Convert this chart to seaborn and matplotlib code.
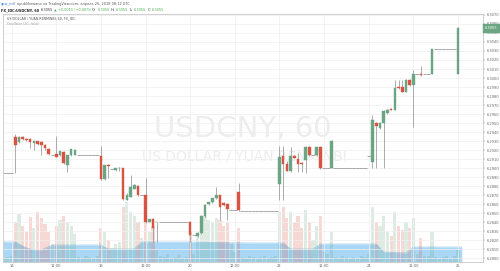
import matplotlib
matplotlib.use("Agg")
import matplotlib.pyplot as plt
import seaborn as sns

# ---------------- data ----------------
candle_hours = [1, 2, 3, 4, 5, 6, 7, 8, 9, 10, 12, 13, 14, 15, 16, 17,
                24, 25, 26, 28, 29, 30, 31, 32, 33, 34, 36, 37, 38, 39,
                48, 50, 51, 52, 53, 54, 55, 56, 57, 58, 61,
                72, 73, 74, 75, 76, 77, 78, 79, 80, 82, 83, 86,
                97, 98, 99, 100, 101, 102, 103, 104, 105, 106, 107, 108, 110, 113, 120]
opens = [6.2934, 6.2929, 6.2934, 6.2932, 6.2932, 6.2928, 6.2930, 6.2929, 6.2926, 6.2921, 6.2916, 6.2914, 6.2918, 6.2903, 6.2914, 6.2915,
         6.2913, 6.2888, 6.2903, 6.2898, 6.2900, 6.2900, 6.2865, 6.2868, 6.2877, 6.2880, 6.2870, 6.2840, 6.2843, 6.2840,
         6.2840, 6.2824, 6.2828, 6.2847, 6.2860, 6.2862, 6.2867, 6.2870, 6.2861, 6.2860, 6.2873,
         6.2882, 6.2913, 6.2905, 6.2897, 6.2913, 6.2910, 6.2906, 6.2909, 6.2923, 6.2914, 6.2923, 6.2900,
         6.2907, 6.2950, 6.2944, 6.2950, 6.2961, 6.2966, 6.2965, 6.2990, 6.2990, 6.2985, 6.2998, 6.2992, 6.3005, 6.3005, 6.3005]
highs = [6.2938, 6.2936, 6.2936, 6.2933, 6.2933, 6.2931, 6.2930, 6.2930, 6.2927, 6.2922, 6.2936, 6.2919, 6.2919, 6.2914, 6.2921, 6.2921,
         6.2924, 6.2903, 6.2905, 6.2900, 6.2901, 6.2900, 6.2872, 6.2892, 6.2882, 6.2881, 6.2889, 6.2843, 6.2844, 6.2840,
         6.2841, 6.2829, 6.2848, 6.2860, 6.2862, 6.2867, 6.2879, 6.2870, 6.2862, 6.2861, 6.2883,
         6.2924, 6.2924, 6.2908, 6.2923, 6.2914, 6.2917, 6.2907, 6.2924, 6.2924, 6.2923, 6.2924, 6.2931,
         6.2959, 6.2951, 6.2951, 6.2964, 6.2966, 6.2967, 6.2998, 6.2998, 6.2998, 6.2999, 6.2999, 6.3009, 6.3013, 6.3032, 6.3057]
lows = [6.2894, 6.2928, 6.2931, 6.2930, 6.2922, 6.2920, 6.2926, 6.2914, 6.2920, 6.2914, 6.2912, 6.2913, 6.2904, 6.2896, 6.2913, 6.2914,
        6.2887, 6.2887, 6.2889, 6.2897, 6.2897, 6.2864, 6.2864, 6.2868, 6.2877, 6.2869, 6.2839, 6.2840, 6.2818, 6.2818,
        6.2818, 6.2823, 6.2827, 6.2846, 6.2859, 6.2861, 6.2866, 6.2842, 6.2858, 6.2842, 6.2852,
        6.2864, 6.2864, 6.2897, 6.2896, 6.2911, 6.2896, 6.2896, 6.2894, 6.2913, 6.2913, 6.2899, 6.2900,
        6.2900, 6.2900, 6.2943, 6.2900, 6.2960, 6.2964, 6.2964, 6.2988, 6.2984, 6.2984, 6.2991, 6.2946, 6.3002, 6.3005, 6.3005]
closes = [6.2926, 6.2934, 6.2932, 6.2931, 6.2929, 6.2930, 6.2927, 6.2926, 6.2922, 6.2916, 6.2912, 6.2919, 6.2906, 6.2914, 6.2921, 6.2920,
          6.2888, 6.2903, 6.2902, 6.2900, 6.2900, 6.2866, 6.2870, 6.2879, 6.2881, 6.2870, 6.2840, 6.2843, 6.2833, 6.2840,
          6.2826, 6.2828, 6.2847, 6.2859, 6.2862, 6.2867, 6.2870, 6.2857, 6.2859, 6.2854, 6.2853,
          6.2912, 6.2905, 6.2897, 6.2913, 6.2911, 6.2905, 6.2904, 6.2923, 6.2914, 6.2923, 6.2900, 6.2930,
          6.2953, 6.2947, 6.2950, 6.2963, 6.2965, 6.2964, 6.2989, 6.2989, 6.2985, 6.2998, 6.2992, 6.3005, 6.3003, 6.3032, 6.3055]

# hours where price did not move (open = high = low = close)
flat_hours = [-3, -2, -1, 0, 11, 18, 19, 20, 21, 22, 23, 27, 35,
              40, 41, 42, 43, 44, 45, 46, 47, 49, 59, 60,
              62, 63, 64, 65, 66, 67, 68, 69, 70, 71, 81, 84, 85,
              87, 88, 89, 90, 91, 92, 93, 94, 95, 96, 109, 111, 112,
              114, 115, 116, 117, 118, 119]
flat_prices = [6.2894, 6.2894, 6.2894, 6.2894, 6.2915, 6.2915, 6.2915, 6.2915, 6.2915, 6.2915, 6.2915, 6.2899, 6.2870,
               6.2840, 6.2840, 6.2840, 6.2840, 6.2840, 6.2840, 6.2840, 6.2840, 6.2826, 6.2853, 6.2853,
               6.2852, 6.2852, 6.2852, 6.2852, 6.2852, 6.2852, 6.2852, 6.2852, 6.2852, 6.2852, 6.2914, 6.2900, 6.2900,
               6.2900, 6.2900, 6.2900, 6.2900, 6.2900, 6.2900, 6.2900, 6.2900, 6.2900, 6.2913, 6.3005, 6.3005, 6.3005,
               6.3032, 6.3032, 6.3032, 6.3032, 6.3032, 6.3032]

# volume, one value per hour from -3 to 120 (arbitrary units)
volume_hours = list(range(-3, 121))
volumes = [4, 3, 5, 6,
           40, 48, 36, 30, 45, 34, 50, 44, 38, 30, 18, 36, 42, 46, 40, 36, 28,
           5, 4, 6, 5, 4, 6,
           34, 30, 22, 14, 18, 20, 55, 60, 50, 46, 40, 24, 46, 30, 36, 12,
           6, 5, 8, 4, 5, 7, 4, 5,
           30, 8, 26, 40, 46, 42, 40, 44, 42, 36, 40, 18, 10, 34,
           5, 4, 6, 5, 4, 5, 6, 4, 5, 6,
           50, 55, 44, 50, 40, 46, 34, 52, 40, 22, 36, 46, 10, 8, 30,
           5, 4, 6, 5, 4, 5, 4, 6, 5,
           8, 55, 40, 36, 46, 30, 26, 50, 36, 32, 40, 34, 44, 8, 24, 6, 6, 30, 5, 4, 5, 6, 4, 6, 12]

# Oscillator (20, false) blue area
osc_hours = [-3, 1, 4, 6, 8, 11, 24, 26, 33, 35, 47, 64, 73, 75, 81, 83, 98, 100, 106, 108, 121]
osc_values = [20, 20, 14, 12, 12, 17, 17, 13, 13, 20, 20, 19, 19, 13, 13, 18, 18, 10, 9, 15, 15]

price_ticks = [6.2800, 6.2810, 6.2820, 6.2830, 6.2840, 6.2850, 6.2860, 6.2870, 6.2880, 6.2890,
               6.2900, 6.2910, 6.2920, 6.2930, 6.2940, 6.2950, 6.2960, 6.2970, 6.2980, 6.2990,
               6.3000, 6.3010, 6.3020, 6.3030, 6.3040, 6.3050, 6.3060, 6.3070]
time_tick_hours = [0, 12, 24, 36, 48, 60, 72, 84, 96, 108, 120]
time_tick_labels = ["18", "12:00", "19", "12:00", "20", "12:00", "23", "12:00", "24", "12:00", "25"]

last_price = "6.3055"
change_text = "▲ +0.0051 (+0.08%)"

# ---------------- styling ----------------
sns.set_style("white")
plt.rcParams["font.family"] = ["DejaVu Sans"]

UP = "#6ba583"
DOWN = "#d75442"
WICK = "#8c8c8c"
GRID = "#efefef"

W, H = 500, 271
fig = plt.figure(figsize=(W / 100, H / 100), dpi=100)
fig.patch.set_facecolor("white")

left, right, top, bottom = 3, 483, 14, 262
rect = [left / W, 1 - bottom / H, (right - left) / W, (bottom - top) / H]
ax_v = fig.add_axes(rect)
ax_p = fig.add_axes(rect, sharex=ax_v)
ax_p.patch.set_alpha(0)

xmin, xmax = -2.3, 126.7
ax_v.set_xlim(xmin, xmax)
ax_v.set_ylim(0, 248)
ax_p.set_ylim(6.27956, 6.30711)

# watermark (inside the lower axes so it sits behind everything)
ax_v.text(243 / W, 1 - 129 / H, "USDCNY, 60", transform=fig.transFigure, ha="center", va="center",
          fontsize=21, color="#ededed", zorder=0)
ax_v.text(244 / W, 1 - 156 / H, "US DOLLAR / YUAN RENMINBI", transform=fig.transFigure, ha="center",
          va="center", fontsize=10, color="#ededed", zorder=0)

# oscillator area + volume bars
ax_v.fill_between(osc_hours, 0, osc_values, color="#a9d7f5", lw=0, zorder=1)
sns.lineplot(x=osc_hours, y=osc_values, ax=ax_v, color="#9fd0f2", lw=0.5, zorder=2)

dir_map = {h: (o, c) for h, o, c in zip(candle_hours, opens, closes)}
vcolors = []
for h in volume_hours:
    o, c = dir_map.get(h, (0, 0))
    vcolors.append(UP if c >= o else DOWN)
ax_v.bar(volume_hours, volumes, width=0.85, color=vcolors, alpha=0.22, lw=0, zorder=3)

# grid
for p in price_ticks:
    ax_p.axhline(p, color=GRID, lw=0.5, zorder=0)
for h in time_tick_hours:
    ax_p.axvline(h, color=GRID, lw=0.5, zorder=0)

# flat bars
for h, p in zip(flat_hours, flat_prices):
    ax_p.hlines(p, h - 0.5, h + 0.5, color="#9a9a9a", lw=0.6, zorder=2)

# candles
min_body = 0.00004
for h, o, hi, lo, c in zip(candle_hours, opens, highs, lows, closes):
    col = UP if c >= o else DOWN
    ax_p.vlines(h, lo, hi, color=WICK, lw=0.5, zorder=3)
    b0, b1 = min(o, c), max(o, c)
    if b1 - b0 < min_body:
        mid = (b0 + b1) / 2
        b0, b1 = mid - min_body / 2, mid + min_body / 2
    ax_p.bar(h, b1 - b0, bottom=b0, width=0.7, color=col, edgecolor=col, lw=0.3, zorder=4)

# axes / ticks
ax_v.set_yticks([])
ax_v.tick_params(axis="x", which="both", length=0, labelbottom=False)
ax_p.yaxis.tick_right()
ax_p.set_yticks(price_ticks)
ax_p.set_yticklabels([f"{p:.4f}" for p in price_ticks])
ax_p.set_xticks(time_tick_hours)
ax_p.set_xticklabels(time_tick_labels)
ax_p.tick_params(axis="y", labelsize=2.6, colors="#666666", length=1.2, width=0.3, pad=1.5)
ax_p.tick_params(axis="x", labelsize=2.6, colors="#666666", length=0, pad=1.5)
for a in (ax_v, ax_p):
    for s in a.spines.values():
        s.set_color("#cfcfcf")
        s.set_linewidth(0.6)

# last price label
ax_p.text(1.004, 6.3055, last_price, transform=ax_p.get_yaxis_transform(), ha="left", va="center",
          fontsize=2.6, color="white",
          bbox=dict(boxstyle="square,pad=0.6", fc=UP, ec=UP, lw=0.3), zorder=10, clip_on=False)

# pane legend
fig.text(7 / W, 1 - 18 / H, "US DOLLAR / YUAN RENMINBI, 60, FX_IDC", fontsize=2.3, color="#555555",
         ha="left", va="center")
fig.text(7 / W, 1 - 24 / H, "Oscillator (20, false)", fontsize=2.3, color="#999999", ha="left", va="center")

# header lines
renderer = fig.canvas.get_renderer()


def seq_text(x_px, y_px, pieces, size):
    x = x_px / W
    for s, color, weight in pieces:
        t = fig.text(x, 1 - y_px / H, s, fontsize=size, color=color, fontweight=weight, ha="left", va="center")
        bb = t.get_window_extent(renderer=renderer)
        x = bb.x1 / fig.bbox.width + 1.2 / W


seq_text(1, 3.5, [("gpw_ndl", "#3a7bd5", "normal"),
                  ("opublikowano na TradingView.com, апрель 25, 2018 08:12 UTC", "#555555", "normal")], 2.5)
seq_text(1, 10, [("FX_IDC:USDCNY, 60", "#222222", "bold"),
                 (last_price, "#333333", "normal"),
                 (change_text, "#4caf50", "normal"),
                 ("O:", "#333333", "normal"), (last_price, "#4caf50", "normal"),
                 ("H:", "#333333", "normal"), (last_price, "#4caf50", "normal"),
                 ("L:", "#333333", "normal"), (last_price, "#4caf50", "normal"),
                 ("C:", "#333333", "normal"), (last_price, "#4caf50", "normal")], 2.5)

fig.savefig("out.png", dpi=100, facecolor="white")
